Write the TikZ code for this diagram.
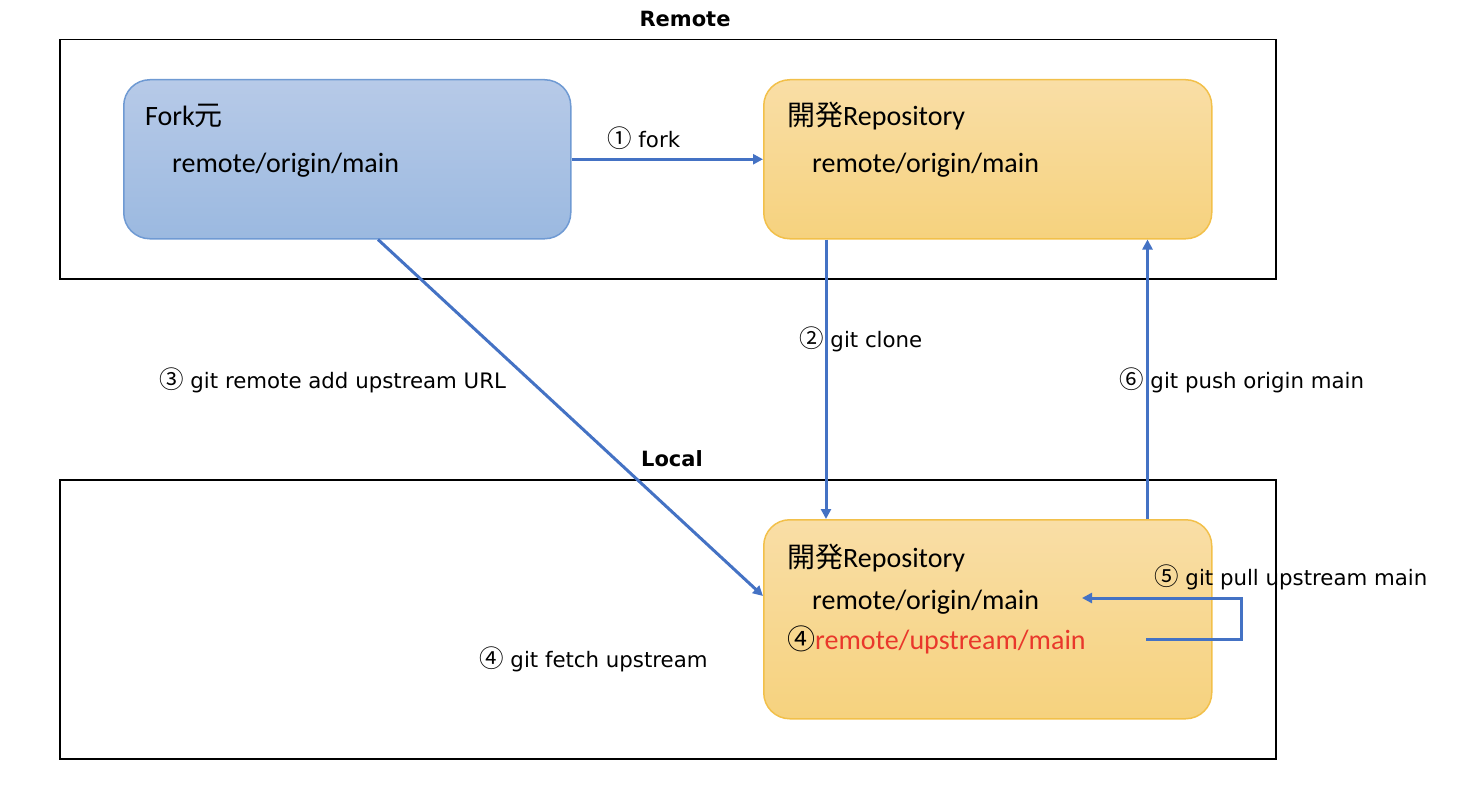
\documentclass[tikz,border=0pt]{standalone}
\usepackage{fontspec}
\setmainfont{Carlito}
\newfontfamily\jp{Noto Sans CJK JP}
\newfontfamily\lblfont{DejaVu Sans}
\newfontfamily\ttlfont{DejaVu Sans}
\usetikzlibrary{arrows.meta,calc}
\definecolor{arrowblue}{HTML}{4472C4}
\definecolor{bluetop}{HTML}{B7CAE8}
\definecolor{bluebot}{HTML}{9BB9E0}
\definecolor{blueedge}{HTML}{6F9AD3}
\definecolor{ortop}{HTML}{F9DEA6}
\definecolor{orbot}{HTML}{F6D27E}
\definecolor{oredge}{HTML}{F2C04A}
\definecolor{redtxt}{HTML}{E9372B}
\newcommand{\cn}[1]{{\jp\fontsize{24.5}{26}\selectfont #1}}
\tikzset{
  frame/.style={draw=black, line width=1.5pt},
  repo/.style={rounded corners=26pt, line width=1.5pt, anchor=north west, inner sep=0pt},
  bluebox/.style={repo, draw=blueedge, top color=bluetop, bottom color=bluebot},
  orbox/.style={repo, draw=oredge, top color=ortop, bottom color=orbot},
  btxt/.style={anchor=base west, inner sep=0pt, font=\fontsize{28}{32}\selectfont},
  lbl/.style={anchor=base west, inner sep=0pt, font=\lblfont\fontsize{21.3}{26}\selectfont},
  ttl/.style={inner sep=0pt, font=\ttlfont\bfseries\fontsize{21}{25}\selectfont},
  conn/.style={draw=arrowblue, line width=3pt, -{Triangle[length=10pt,width=10pt]}},
}
\begin{document}
\begin{tikzpicture}[x=1pt,y=-1pt]
\useasboundingbox (0,0) rectangle (1462,792);
% frames
\node[frame, anchor=north west, minimum width=1216pt, minimum height=239pt, inner sep=0pt] (remote) at (59,39) {};
\node[frame, anchor=north west, minimum width=1216pt, minimum height=279pt, inner sep=0pt] (local) at (59,479) {};
\node[ttl] (remotet) at (685,19) {Remote};
\node[ttl] (localt) at (672,459) {Local};
% repo boxes
\node[bluebox, minimum width=447pt, minimum height=159pt] (fork) at (123,79) {};
\node[orbox, minimum width=448pt, minimum height=159pt] (dev) at (763,79) {};
\node[orbox, minimum width=448pt, minimum height=199pt] (ldev) at (763,519) {};
% texts
\node[btxt] (forkt) at (145,125) {Fork{\jp 元}};
\node[btxt] (forko) at (172,172) {remote/origin/main};
\node[btxt] (devt) at (787,125) {{\jp 開発}Repository};
\node[btxt] (devo) at (812,172) {remote/origin/main};
\node[btxt] (ldevt) at (787,567) {{\jp 開発}Repository};
\node[btxt] (ldevo) at (812,609) {remote/origin/main};
\node[btxt] (ldevu) at (787,649) {{\jp ④}\textcolor{redtxt}{remote/upstream/main}};
% labels
\node[lbl] (l1) at (607,147) {\cn{①} fork};
\node[lbl] (l2) at (799,347) {\cn{②} git clone};
\node[lbl] (l3) at (159,388) {\cn{③} git remote add upstream URL};
\node[lbl] (l6) at (1119,388) {\cn{⑥} git push origin main};
\node[lbl] (l5) at (1154,585) {\cn{⑤} git pull upstream main};
\node[lbl] (l4) at (479,667) {\cn{④} git fetch upstream};
% connectors
\coordinate (p5a) at (1146,639);
\coordinate (p5b) at (1082,598);
\draw[conn] (fork.east) -- (fork.east -| dev.west);
\draw[conn] ([xshift=63pt]dev.south west) -- ([xshift=63pt]ldev.north west);
\draw[conn] ([xshift=-65pt]ldev.north east) -- ([xshift=-65pt]dev.south east);
\draw[conn] ([xshift=255pt]fork.south west) -- ([yshift=-77pt]ldev.north west);
\draw[conn] (p5a) -- (1241,639) -- (1241,598) -- (p5b);
\end{tikzpicture}
\end{document}
